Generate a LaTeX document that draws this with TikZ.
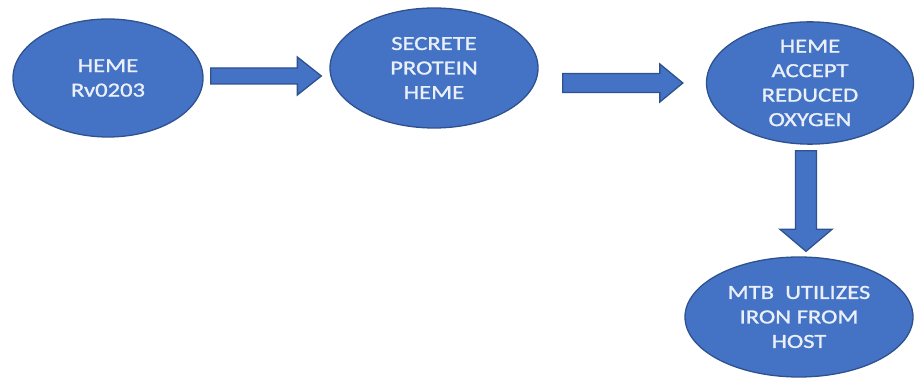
\documentclass[tikz,border=0pt]{standalone}
\usepackage{fontspec}
\usepackage{tikz}
\usetikzlibrary{
  calc,
  positioning,
  shapes.geometric,
}
\newfontfamily\stagefont{Carlito}[FakeStretch=1.23, FakeBold=1.2]
\definecolor{fillblue}{HTML}{4472C4}
\definecolor{bordblue}{HTML}{2F528F}
\definecolor{textwhite}{HTML}{EAF0FA}

\begin{document}
\begin{tikzpicture}[x=1pt, y=1pt,
  stage/.style={ellipse, draw=bordblue, fill=fillblue, line width=1.3pt,
    text=textwhite, align=center, inner sep=0pt,
    font=\stagefont\fontsize{20}{24.5}\selectfont},
  fat/.style={draw=bordblue, fill=fillblue, line width=1.3pt, line join=miter},
]

\useasboundingbox (0,0) rectangle (916,385);

% the four stages
\node[stage, minimum width=190, minimum height=118] (heme) at (108,307) {HEME\\Rv0203};
\node[stage, minimum width=208, minimum height=120] (secrete) at (434,317) {SECRETE\\PROTEIN\\HEME};
\node[stage, minimum width=207, minimum height=107] (accept) at (810,302) {HEME\\ACCEPT\\REDUCED\\OXYGEN};
\node[stage, minimum width=228, minimum height=120] (mtb) at (799,68) {MTB\ \ UTILIZES\\IRON FROM\\HOST};

% block arrows between the stages
\coordinate (a1s) at ($(heme.east)+(7,2)$);
\coordinate (a1t) at ($(secrete.west |- a1s)+(-8,0)$);
\draw[fat] ($(a1s)+(0,8)$) -- ($(a1t)+(-24,8)$) -- ($(a1t)+(-24,19)$) -- (a1t)
  -- ($(a1t)+(-24,-19)$) -- ($(a1t)+(-24,-8)$) -- ($(a1s)+(0,-8)$) -- cycle;

\coordinate (a2s) at ($(secrete.east)+(24,-15)$);
\coordinate (a2t) at ($(accept.west |- a2s)+(-23,0)$);
\draw[fat] ($(a2s)+(0,9.5)$) -- ($(a2t)+(-23,9.5)$) -- ($(a2t)+(-23,19)$) -- (a2t)
  -- ($(a2t)+(-23,-19)$) -- ($(a2t)+(-23,-9.5)$) -- ($(a2s)+(0,-9.5)$) -- cycle;

\coordinate (a3s) at ($(accept.south)+(-4,-6)$);
\coordinate (a3t) at ($(mtb.north -| a3s)+(0,5)$);
\draw[fat] ($(a3s)+(-10.5,0)$) -- ($(a3t)+(-10.5,22)$) -- ($(a3t)+(-26,22)$) -- (a3t)
  -- ($(a3t)+(26,22)$) -- ($(a3t)+(10.5,22)$) -- ($(a3s)+(10.5,0)$) -- cycle;
\end{tikzpicture}
\end{document}
